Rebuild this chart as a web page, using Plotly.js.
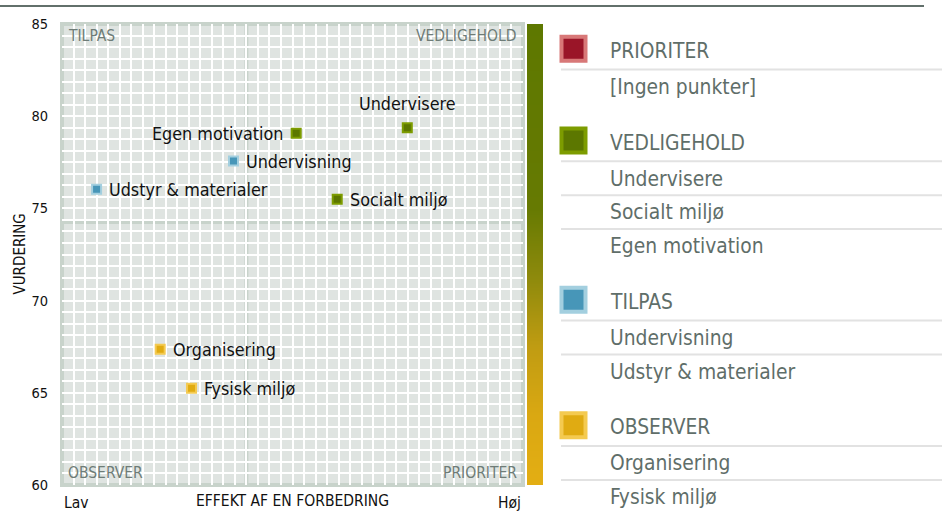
<!DOCTYPE html>
<html>
<head>
<meta charset="utf-8">
<script src="https://cdn.plot.ly/plotly-3.0.1.min.js"></script>
<style>
  html, body { margin: 0; padding: 0; background: #ffffff; }
  #chart { width: 942px; height: 512px; }
</style>
</head>
<body>
<div id="chart"></div>
<script>
// ---------------- DATA ----------------
const pointNames   = ['Undervisere', 'Socialt miljø', 'Egen motivation', 'Undervisning', 'Udstyr & materialer', 'Organisering', 'Fysisk miljø'];
const effectValues = [74.9, 59.7, 50.8, 37.2, 7.5, 21.3, 28.1];
const ratingValues = [79.38, 75.49, 79.07, 77.57, 76.04, 67.36, 65.24];
const pointGroups  = ['VEDLIGEHOLD', 'VEDLIGEHOLD', 'VEDLIGEHOLD', 'TILPAS', 'TILPAS', 'OBSERVER', 'OBSERVER'];
const labelSides   = ['top', 'right', 'left', 'right', 'right', 'right', 'right'];

const groupNames   = ['PRIORITER', 'VEDLIGEHOLD', 'TILPAS', 'OBSERVER'];
const emptyText    = '[Ingen punkter]';
const yTickValues  = [60, 65, 70, 75, 80, 85];
const yRange       = [60, 85];
const xRange       = [0, 100];
const xSplit       = 40;
const ySplit       = 74.26;
const xEndLabels   = ['Lav', 'Høj'];
const xTitle       = 'EFFEKT AF EN FORBEDRING';
const yTitle       = 'VURDERING';
const cornerLabels = ['TILPAS', 'VEDLIGEHOLD', 'OBSERVER', 'PRIORITER'];
const gradientStops = [0, 0.15, 0.3, 0.45, 0.6, 1];
const gradientColors = ['#e3ae13', '#daa812', '#c09c12', '#8e8a0c', '#667a02', '#5e7800'];

// ---------------- STYLE ----------------
const W = 942, H = 512;
const FONT = 'DejaVu Sans Condensed, DejaVu Sans, sans-serif';
const groupFill = { PRIORITER: '#9a1528', VEDLIGEHOLD: '#5c7700', TILPAS: '#4796b8', OBSERVER: '#e0ab12' };
const groupEdge = { PRIORITER: '#d87878', VEDLIGEHOLD: '#7d9c00', TILPAS: '#a3cfdf', OBSERVER: '#f4ca50' };
const px = x => x / W;
const py = y => 1 - y / H;

const plotL = 62, plotR = 523, plotT = 24, plotB = 485;

// ---------------- TRACES ----------------
const traces = [];
['VEDLIGEHOLD', 'TILPAS', 'OBSERVER'].forEach(g => {
  const idx = pointNames.map((_, i) => i).filter(i => pointGroups[i] === g);
  traces.push({
    type: 'scatter', mode: 'markers',
    x: idx.map(i => effectValues[i]),
    y: idx.map(i => ratingValues[i]),
    marker: { symbol: 'square', size: 9, color: groupFill[g], line: { color: groupEdge[g], width: 2 } },
    hoverinfo: 'skip', showlegend: false, cliponaxis: false,
    xaxis: 'x', yaxis: 'y'
  });
});
// gradient bar
traces.push({
  type: 'heatmap', x: [0, 1], y: [0, 1], z: [[0, 0], [1, 1]],
  zsmooth: 'best', showscale: false, hoverinfo: 'skip',
  zmin: 0, zmax: 1,
  colorscale: gradientStops.map((s, i) => [s, gradientColors[i]]),
  xaxis: 'x2', yaxis: 'y3'
});

// ---------------- SHAPES & ANNOTATIONS ----------------
const shapes = [];
const annotations = [];

// point labels (positioned on the data scales)
const labelFont = { family: FONT, size: 17.8, color: '#111111' };
pointNames.forEach((n, i) => {
  const side = labelSides[i];
  const a = { text: n, xref: 'x', yref: 'y', x: effectValues[i], y: ratingValues[i], showarrow: false, font: labelFont,
    yanchor: 'middle' };
  if (side === 'right') { a.xanchor = 'left'; a.xshift = 10.5; }
  else if (side === 'left') { a.xanchor = 'right'; a.xshift = -11.5; }
  else { a.xanchor = 'center'; a.yshift = 24.5; }
  annotations.push(a);
});

// top rule
shapes.push({ type: 'line', xref: 'paper', yref: 'paper', x0: 0, x1: px(924), y0: py(6), y1: py(6),
  line: { color: '#62706b', width: 2 } });

// quadrant dividers
shapes.push({ type: 'line', layer: 'below', xref: 'x', yref: 'y domain', x0: xSplit, x1: xSplit, y0: 0, y1: 1, line: { color: '#c8d3cb', width: 4 } });
shapes.push({ type: 'line', layer: 'below', xref: 'x domain', yref: 'y', x0: 0, x1: 1, y0: ySplit, y1: ySplit, line: { color: '#c8d3cb', width: 4 } });
// frame
shapes.push({ type: 'rect', layer: 'below', xref: 'x domain', yref: 'y domain', x0: 0, x1: 1, y0: 0, y1: 1, line: { color: '#c8d3cb', width: 4 } });

// corner labels
const cornerFont = { family: FONT, size: 15.5, color: '#6e7c77' };
annotations.push({ text: cornerLabels[0], xref: 'paper', yref: 'paper', x: px(66), y: py(35.7), xanchor: 'left', yanchor: 'middle', showarrow: false, font: cornerFont });
annotations.push({ text: cornerLabels[1], xref: 'paper', yref: 'paper', x: px(519), y: py(35.7), xanchor: 'right', yanchor: 'middle', showarrow: false, font: cornerFont });
annotations.push({ text: cornerLabels[2], xref: 'paper', yref: 'paper', x: px(66), y: py(473), xanchor: 'left', yanchor: 'middle', showarrow: false, font: cornerFont });
annotations.push({ text: cornerLabels[3], xref: 'paper', yref: 'paper', x: px(519), y: py(473), xanchor: 'right', yanchor: 'middle', showarrow: false, font: cornerFont });

// axis end labels & titles
const axFont = { family: FONT, size: 15.5, color: '#111111' };
annotations.push({ text: xEndLabels[0], xref: 'paper', yref: 'paper', x: px(62), y: py(503), xanchor: 'left', yanchor: 'middle', showarrow: false, font: axFont });
annotations.push({ text: xEndLabels[1], xref: 'paper', yref: 'paper', x: px(523), y: py(503), xanchor: 'right', yanchor: 'middle', showarrow: false, font: axFont });
annotations.push({ text: xTitle, xref: 'paper', yref: 'paper', x: px(292.5), y: 0, xanchor: 'center', yanchor: 'bottom', showarrow: false, font: axFont });
annotations.push({ text: yTitle, xref: 'paper', yref: 'paper', x: px(19.5), y: py(254), xanchor: 'center', yanchor: 'middle', textangle: -90, showarrow: false, font: { family: FONT, size: 15, color: '#111111' } });

// legend
const legFont = { family: FONT, size: 20.8, color: '#5f6e69' };
let hy = 50.8;
groupNames.forEach(g => {
  const items = pointNames.filter((_, i) => pointGroups[i] === g);
  const rows = items.length ? items : [emptyText];
  const sc = hy - 2;
  shapes.push({ type: 'rect', xref: 'paper', yref: 'paper', x0: px(561.5), x1: px(585.5), y0: py(sc - 12), y1: py(sc + 12),
    fillcolor: groupFill[g], line: { color: groupEdge[g], width: 4 } });
  annotations.push({ text: g, xref: 'paper', yref: 'paper', x: px(608), y: py(hy), xanchor: 'left', yanchor: 'middle', showarrow: false, font: legFont });
  shapes.push({ type: 'line', xref: 'paper', yref: 'paper', x0: px(561), x1: 1, y0: py(hy + 18.8), y1: py(hy + 18.8), line: { color: '#e2e2e2', width: 2 } });
  let iy = hy + 36;
  rows.forEach((r, k) => {
    annotations.push({ text: r, xref: 'paper', yref: 'paper', x: px(608), y: py(iy), xanchor: 'left', yanchor: 'middle', showarrow: false, font: legFont });
    if (k < rows.length - 1) {
      shapes.push({ type: 'line', xref: 'paper', yref: 'paper', x0: px(561), x1: 1, y0: py(iy + 16.8), y1: py(iy + 16.8), line: { color: '#e2e2e2', width: 2 } });
      iy += 33.8;
    }
  });
  hy = iy + 55.7;
});

// ---------------- LAYOUT ----------------
const layout = {
  width: W, height: H,
  margin: { l: 0, r: 0, t: 0, b: 0 },
  paper_bgcolor: '#ffffff', plot_bgcolor: '#dfe4e1',
  showlegend: false,
  font: { family: FONT, color: '#111111' },
  xaxis: { domain: [px(plotL), px(plotR)], range: xRange, tick0: 0, dtick: 2.5, showgrid: true, gridcolor: '#ffffff', gridwidth: 2,
    showticklabels: false, ticks: '', zeroline: false, showline: false, fixedrange: true },
  yaxis: { domain: [py(plotB), py(plotT)], range: yRange, tickvals: yTickValues, showgrid: true, gridcolor: '#ffffff', gridwidth: 2,
    minor: { tick0: 60, dtick: 0.625, showgrid: true, gridcolor: '#ffffff', gridwidth: 2, ticks: '' },
    ticks: '', ticklabelstandoff: 13, tickfont: { family: FONT, size: 14.5, color: '#111111' },
    zeroline: false, showline: false, fixedrange: true },
  xaxis2: { domain: [px(527), px(543)], anchor: 'y3', range: [0, 1], visible: false, fixedrange: true },
  yaxis3: { domain: [py(plotB), py(plotT)], anchor: 'x2', range: [0, 1], visible: false, fixedrange: true },
  shapes: shapes,
  annotations: annotations
};

Plotly.newPlot('chart', traces, layout, { displayModeBar: false, staticPlot: true });
</script>
</body>
</html>
